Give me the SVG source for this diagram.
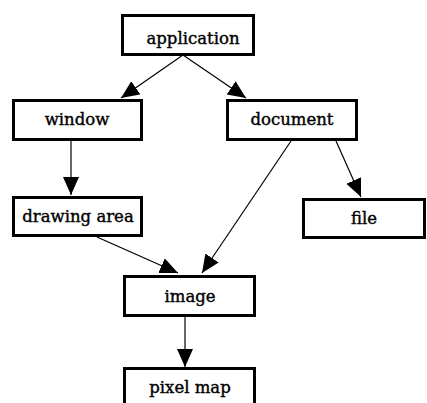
<svg xmlns="http://www.w3.org/2000/svg" width="427" height="403" viewBox="0 0 427 403">
<style>
.box{fill:#fff;stroke:#000;stroke-width:3}
.lbl{font-family:'DejaVu Serif',serif;font-size:16.5px;text-anchor:middle;fill:#000;stroke:#000;stroke-width:0.4}
.edge{stroke:#000;stroke-width:1.2;fill:none;marker-end:url(#ah)}
</style>
<defs>
<marker id="ah" markerUnits="userSpaceOnUse" markerWidth="20" markerHeight="18" refX="18" refY="8" orient="auto">
<path d="M0,0 L18,8 L0,16 Z" fill="#000"/>
</marker>
</defs>
<rect width="427" height="403" fill="#fff"/>
<g id="connectors">
<line class="edge" x1="183" y1="55" x2="121" y2="98"/>
<line class="edge" x1="183" y1="55" x2="246" y2="98"/>
<line class="edge" x1="71" y1="141" x2="71" y2="195"/>
<line class="edge" x1="97" y1="237" x2="178" y2="273"/>
<line class="edge" x1="291" y1="141" x2="202" y2="273"/>
<line class="edge" x1="336" y1="141" x2="361" y2="197"/>
<line class="edge" x1="185" y1="317" x2="185" y2="367"/>
</g>
<g id="application"><rect class="box" x="122.5" y="15.5" width="131" height="39"/><text class="lbl" x="193" y="44">application</text></g>
<g id="window"><rect class="box" x="13.5" y="100.5" width="128" height="39"/><text class="lbl" x="77" y="125">window</text></g>
<g id="document"><rect class="box" x="227.5" y="100.5" width="129" height="39"/><text class="lbl" x="292" y="125">document</text></g>
<g id="drawing_area"><rect class="box" x="13.5" y="197.5" width="128" height="38"/><text class="lbl" x="78" y="222">drawing area</text></g>
<g id="file"><rect class="box" x="303.5" y="199.5" width="121" height="38"/><text class="lbl" x="364" y="224">file</text></g>
<g id="image"><rect class="box" x="124.5" y="276.5" width="130" height="39"/><text class="lbl" x="190" y="302">image</text></g>
<g id="pixel_map"><rect class="box" x="124.5" y="368.5" width="130" height="39"/><text class="lbl" x="190" y="393">pixel map</text></g>
</svg>
